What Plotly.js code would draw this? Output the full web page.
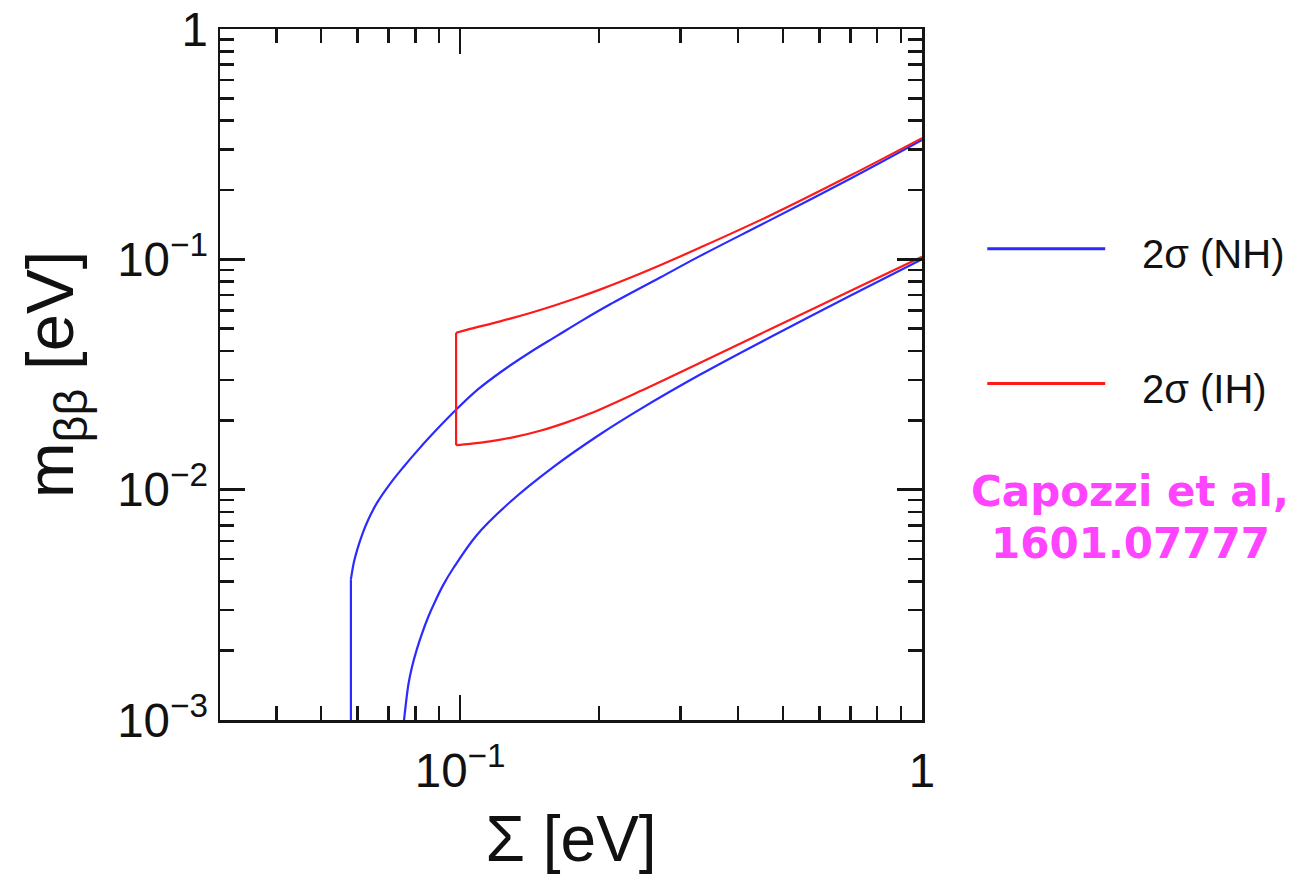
<!DOCTYPE html>
<html>
<head>
<meta charset="utf-8">
<script src="https://cdn.plot.ly/plotly-3.0.1.min.js"></script>
<style>
  html, body { margin: 0; padding: 0; background: #ffffff; }
  #chart { width: 1300px; height: 877px; }
</style>
</head>
<body>
<div id="chart"></div>
<script>
// Effective Majorana mass m_bb versus the sum of neutrino masses Sigma (2 sigma bands)

// Normal hierarchy (NH): lower edge of Sigma, upper and lower envelopes
const nhSigmaMin = [0.058, 0.058];
const nhMbbMin = [0.001, 0.00408];
const nhSigmaUpper = [0.058, 0.0589, 0.0598, 0.0613, 0.0632, 0.0661, 0.0705, 0.0754, 0.0803, 0.0861, 0.0977,
                      0.1094, 0.124, 0.1418, 0.162, 0.1847, 0.2113, 0.271, 0.331, 0.469, 0.699, 1.0];
const nhMbbUpper = [0.00408, 0.00486, 0.00545, 0.00635, 0.00738, 0.00878, 0.0106, 0.01255, 0.01455, 0.0170, 0.0221,
                    0.0273, 0.0330, 0.0395, 0.0465, 0.0546, 0.0638, 0.0834, 0.1035, 0.148, 0.224, 0.330];
const nhSigmaLower = [0.0756, 0.0773, 0.0786, 0.0806, 0.0826, 0.0854, 0.0883, 0.0920, 0.0967, 0.1087, 0.1283,
                      0.1593, 0.201, 0.2455, 0.331, 0.469, 0.699, 1.0];
const nhMbbLower = [0.001, 0.001437, 0.00169, 0.00203, 0.00236, 0.00282, 0.00328, 0.00387, 0.00457, 0.00636, 0.00884,
                    0.01256, 0.0174, 0.02237, 0.0316, 0.0459, 0.0695, 0.100];

// Inverted hierarchy (IH)
const ihSigmaMin = [0.098, 0.098];
const ihMbbMin = [0.0156, 0.048];
const ihSigmaUpper = [0.098, 0.1051, 0.1221, 0.1418, 0.1606, 0.182, 0.200, 0.222, 0.271, 0.331, 0.469, 0.699, 1.0];
const ihMbbUpper = [0.048, 0.0499, 0.0538, 0.0585, 0.0632, 0.0688, 0.0737, 0.0799, 0.0943, 0.1125, 0.155, 0.231, 0.336];
const ihSigmaLower = [0.098, 0.1051, 0.1161, 0.1315, 0.149, 0.1688, 0.1912, 0.2455, 0.331, 0.469, 0.699, 1.0];
const ihMbbLower = [0.0156, 0.0158, 0.0162, 0.01694, 0.01802, 0.0195, 0.0214, 0.0268, 0.0356, 0.0497, 0.0728, 0.1025];

// Legend entries and reference note
const legendLabels = ['2σ (NH)', '2σ (IH)'];
const noteLines = ['Capozzi et al,', '1601.07777'];

const NH_COLOR = '#2b2bff';
const IH_COLOR = '#ff1a1a';
const AXIS_COLOR = '#151515';
const FONT = 'Liberation Sans, Arial, Helvetica, sans-serif';

function curve(x, y, color, name) {
  return {
    type: 'scatter', mode: 'lines', x: x, y: y, name: name,
    showlegend: false, hoverinfo: 'x+y',
    line: { color: color, width: 2.2, shape: 'spline', smoothing: 1 }
  };
}

function edge(x, y, color, name) {
  return {
    type: 'scatter', mode: 'lines', x: x, y: y, name: name,
    showlegend: false, hoverinfo: 'x+y',
    line: { color: color, width: 2.2 }
  };
}

const traces = [
  edge(nhSigmaMin, nhMbbMin, NH_COLOR, legendLabels[0]),
  curve(nhSigmaUpper, nhMbbUpper, NH_COLOR, legendLabels[0]),
  curve(nhSigmaLower, nhMbbLower, NH_COLOR, legendLabels[0]),
  edge(ihSigmaMin, ihMbbMin, IH_COLOR, legendLabels[1]),
  curve(ihSigmaUpper, ihMbbUpper, IH_COLOR, legendLabels[1]),
  curve(ihSigmaLower, ihMbbLower, IH_COLOR, legendLabels[1])
];

function logAxis(range, titleText, titleSize, standoff, labelStandoff) {
  return {
    type: 'log',
    range: range,
    dtick: 1,
    exponentformat: 'power',
    showgrid: false,
    zeroline: false,
    showline: true,
    linecolor: AXIS_COLOR,
    linewidth: 2.5,
    mirror: 'ticks',
    ticks: 'inside',
    ticklen: 25,
    tickwidth: 2.5,
    tickcolor: AXIS_COLOR,
    ticklabelstandoff: labelStandoff,
    ticklabeloverflow: 'allow',
    tickfont: { family: FONT, size: 38, color: '#111111' },
    minor: { ticks: 'inside', ticklen: 14, tickwidth: 2.5, tickcolor: AXIS_COLOR, dtick: 'D1', showgrid: false },
    title: { text: titleText, standoff: standoff, font: { family: FONT, size: titleSize, color: '#111111' } },
    automargin: false
  };
}

// Legend drawn beside the frame: short line sample and label for each band
const legendRows = [
  { y: 0.682, text: legendLabels[0], color: NH_COLOR },
  { y: 0.487, text: legendLabels[1], color: IH_COLOR }
];

const shapes = legendRows.map(r => ({
  type: 'line', xref: 'paper', yref: 'paper',
  x0: 1.093, x1: 1.261, y0: r.y, y1: r.y,
  line: { color: r.color, width: 3 }
}));

const annotations = legendRows.map(r => ({
  xref: 'paper', yref: 'paper', x: 1.311, y: r.y - 0.008,
  xanchor: 'left', yanchor: 'middle', showarrow: false,
  text: r.text, font: { family: FONT, size: 40, color: '#111111' }
}));

noteLines.forEach((t, i) => {
  annotations.push({
    xref: 'paper', yref: 'paper', x: 1.297, y: i === 0 ? 0.331 : 0.255,
    xanchor: 'center', yanchor: 'middle', showarrow: false,
    text: '<b>' + t + '</b>',
    font: { family: 'DejaVu Sans, sans-serif', size: 42, color: '#ff44ff' }
  });
});

const layout = {
  width: 1300,
  height: 877,
  margin: { l: 220, r: 378, t: 29, b: 157 },
  paper_bgcolor: '#ffffff',
  plot_bgcolor: '#ffffff',
  showlegend: false,
  xaxis: logAxis([Math.log10(0.0302), 0], 'Σ [eV]', 64, 21, 9),
  yaxis: logAxis([-3, 0], 'm<sub>ββ</sub> [eV]', 67, 22, 2),
  shapes: shapes,
  annotations: annotations
};

Plotly.newPlot('chart', traces, layout, { displayModeBar: false, staticPlot: true });
</script>
</body>
</html>
